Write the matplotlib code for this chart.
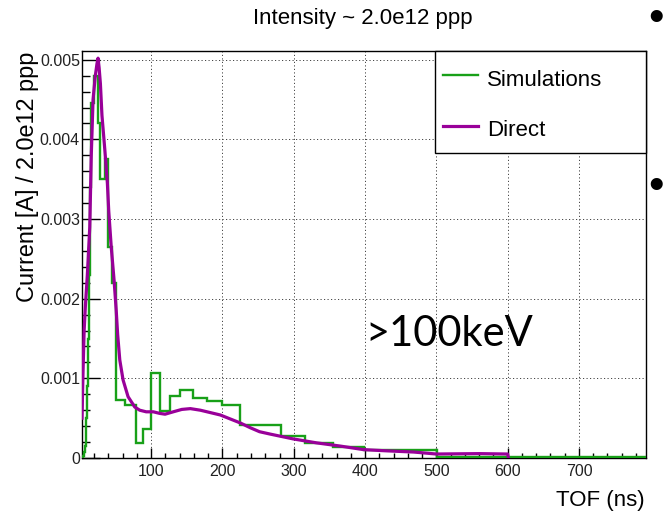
import matplotlib
matplotlib.use("Agg")
import matplotlib.pyplot as plt
from matplotlib.ticker import MultipleLocator, FixedLocator, FuncFormatter
from matplotlib.patches import Rectangle
from matplotlib.lines import Line2D

# ---------------- data ----------------
title = "Intensity ~ 2.0e12 ppp"
y_label = "Current [A] / 2.0e12 ppp"
x_label = "TOF (ns)"
annotation = ">100keV"
legend_labels = ["Simulations", "Direct"]

# Simulations: variable-width histogram (bin edges in ns, content in A)
sim_edges = [3, 4.47, 5.01, 5.62, 6.31, 7.08, 7.94, 8.91, 10.0, 11.2,
             12.6, 14.1, 15.8, 17.8, 20.0, 22.4, 25.1, 28.2, 31.6, 35.5,
             39.8, 44.7, 50.1, 56.2, 63.1, 70.8, 79.4, 89.1, 100, 112,
             126, 141, 158, 178, 200, 224, 251, 282, 316, 355,
             398, 447, 501, 794]
sim_values = [0, 0.00001, 0.00002, 0.00004, 0.00008, 0.00015, 0.00028, 0.0005, 0.0009, 0.0015,
              0.0023, 0.0034, 0.00446, 0.00446, 0.0048, 0.0048, 0.0042, 0.0035, 0.0035, 0.00375,
              0.00265, 0.0022, 0.00073, 0.00073, 0.00067, 0.00067, 0.00019, 0.00036, 0.00107, 0.00059,
              0.00078, 0.00086, 0.00075, 0.00072, 0.00067, 0.00041, 0.00041, 0.00027, 0.00019, 0.00014,
              0.0001, 0.0001, 0.000015]

# Direct measurement
direct_tof = [3, 4.5, 6, 7.7, 10.5, 13.9, 16, 18.5, 21.7, 24, 25.5, 27, 28.8, 31, 35,
              38.6, 40.5, 44, 48, 51, 53, 56, 60.6, 67.6, 77, 84, 93, 103, 112, 119.5,
              131, 143, 155, 169, 183, 197, 211, 225, 239, 252, 267, 299, 332, 365, 398,
              430, 468, 500, 560, 600, 601]
direct_current = [0.0005, 0.0011, 0.0016, 0.0019, 0.0023, 0.0029, 0.0038, 0.0045, 0.0048, 0.00495,
                  0.00502, 0.0049, 0.0047, 0.0043, 0.00387, 0.00345, 0.0031, 0.00265, 0.00223, 0.00185,
                  0.00155, 0.00123, 0.00098, 0.00077, 0.00064, 0.0006, 0.00058, 0.00058, 0.00056, 0.00055,
                  0.00058, 0.00061, 0.00062, 0.0006, 0.00057, 0.00054, 0.00049, 0.00044, 0.00038, 0.00033,
                  0.0003, 0.00024, 0.00019, 0.00015, 0.000105, 0.00009, 0.000075, 0.00005, 0.000055, 0.00005,
                  0.0]

x_major = [100, 200, 300, 400, 500, 600, 700]
y_major = [0, 0.001, 0.002, 0.003, 0.004, 0.005]

GREEN = "#18a018"
PURPLE = "#990099"
FONT = "Liberation Sans"

# ---------------- figure ----------------
W, H = 664, 512
fig = plt.figure(figsize=(W / 100, H / 100), dpi=100)
fig.patch.set_facecolor("white")


def fx(px):
    return px / W


def fy(py):
    return 1 - py / H


ax = fig.add_axes([fx(82), fy(458), fx(646) - fx(82), fy(51) - fy(458)])
ax.set_xlim(3, 794)
ax.set_ylim(0, 0.00511)

ax.stairs(sim_values, sim_edges, color=GREEN, lw=1.7, baseline=None, zorder=3)
ax.plot(direct_tof, direct_current, color=PURPLE, lw=2.3, zorder=4)

# ticks
ax.xaxis.set_major_locator(FixedLocator(x_major))
ax.xaxis.set_minor_locator(MultipleLocator(20))
ax.yaxis.set_major_locator(FixedLocator(y_major))
ax.yaxis.set_minor_locator(MultipleLocator(0.0002))
ax.yaxis.set_major_formatter(FuncFormatter(lambda v, p: "0" if v == 0 else f"{v:.3f}"))
ax.tick_params(axis="both", which="both", direction="in", width=1.0, colors="black")
ax.tick_params(axis="y", which="major", length=13, pad=1.5)
ax.tick_params(axis="y", which="minor", length=6)
ax.tick_params(axis="x", which="major", length=7, pad=4)
ax.tick_params(axis="x", which="minor", length=3.5)
ax.tick_params(top=False, right=False)
for lab in ax.get_xticklabels() + ax.get_yticklabels():
    lab.set_fontfamily(FONT)
    lab.set_fontsize(11.5)
    lab.set_color("#222222")

ax.grid(True, which="major", color="#444444", lw=0.7, linestyle=(0, (1.2, 2.4)))
ax.set_axisbelow(True)
for sp in ax.spines.values():
    sp.set_linewidth(1.0)
    sp.set_color("black")

# titles / labels
fig.text(fx(363), fy(24), title, ha="center", va="baseline", fontsize=16, family=FONT)
fig.text(fx(34), fy(52), y_label, rotation=90, rotation_mode="anchor",
         ha="right", va="baseline", fontsize=16.9, family=FONT)
fig.text(fx(645), fy(506), x_label, ha="right", va="baseline", fontsize=16, family=FONT)

ax.text(fx(365), fy(346), annotation, transform=fig.transFigure, ha="left", va="baseline",
        fontsize=30, family="Lato", color="black", zorder=6)

# legend box (ROOT style)
fig.add_artist(Rectangle((fx(435), fy(153)), fx(646) - fx(435), fy(51) - fy(153),
                         transform=fig.transFigure, facecolor="white", edgecolor="black",
                         lw=1.0, zorder=5))
for col, lab, yc, yb in [(GREEN, legend_labels[0], 75, 86), (PURPLE, legend_labels[1], 126, 136)]:
    fig.add_artist(Line2D([fx(443), fx(478)], [fy(yc), fy(yc)], transform=fig.transFigure,
                          color=col, lw=1.7 if col == GREEN else 2.3, zorder=6))
    fig.text(fx(487), fy(yb), lab, ha="left", va="baseline", fontsize=16, family=FONT, zorder=6)

# slide bullets at the right edge
for yc in [20, 188]:
    fig.text(fx(664), fy(yc), "\u2022", ha="right", va="center", fontsize=32, family=FONT,
             color="black")

fig.savefig("out.png", dpi=100, facecolor="white")
